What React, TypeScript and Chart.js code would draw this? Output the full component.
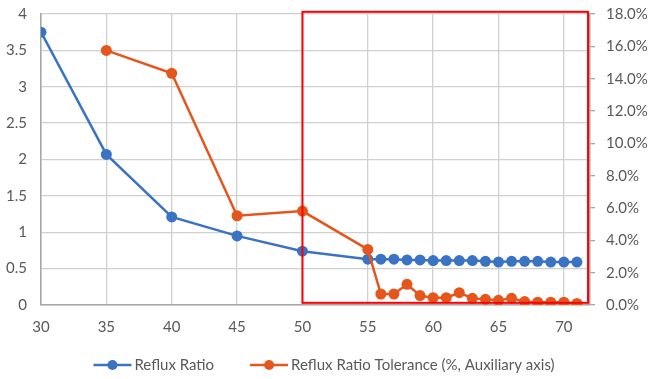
import { useEffect, useRef } from "react";
import { Chart, registerables } from "chart.js";

Chart.register(...registerables);

// ---- data ----
const X_VALUES = [30, 35, 40, 45, 50, 55, 56, 57, 58, 59, 60, 61, 62, 63, 64, 65, 66, 67, 68, 69, 70, 71];
const REFLUX_RATIO = [3.75, 2.07, 1.21, 0.95, 0.74, 0.63, 0.63, 0.63, 0.62, 0.62, 0.61, 0.61, 0.61, 0.61, 0.6, 0.59, 0.6, 0.6, 0.6, 0.59, 0.59, 0.59];
const TOLERANCE_PCT = [null, 15.75, 14.33, 5.52, 5.81, 3.44, 0.68, 0.68, 1.28, 0.58, 0.45, 0.45, 0.76, 0.41, 0.35, 0.29, 0.41, 0.21, 0.17, 0.17, 0.17, 0.1];
const SERIES_LABELS = ["Reflux Ratio", "Reflux Ratio Tolerance (%, Auxiliary axis)"];
// highlighted region (in data units of x / left y axis)
const HIGHLIGHT_X = [50, 71.85];
const HIGHLIGHT_Y = [0.03, 4.03];

const BLUE = "#3B73C4";
const ORANGE = "#E5561D";
const GRID = "#D0D0D0";
const AXIS = "#A6A6A6";
const TEXT = "#595959";
const FONT = "Lato, 'Open Sans', sans-serif";
const FONT_SIZE = 15;

const boxPlugin = {
  id: "highlightBox",
  afterDatasetsDraw(chart: any) {
    const { ctx, scales } = chart;
    const x0 = scales.x.getPixelForValue(HIGHLIGHT_X[0]);
    const x1 = scales.x.getPixelForValue(HIGHLIGHT_X[1]);
    const y0 = scales.y.getPixelForValue(HIGHLIGHT_Y[1]);
    const y1 = scales.y.getPixelForValue(HIGHLIGHT_Y[0]);
    ctx.save();
    ctx.strokeStyle = "#FF0000";
    ctx.lineWidth = 2;
    ctx.strokeRect(x0, y0, x1 - x0, y1 - y0);
    ctx.restore();
  },
};

const legendPlugin = {
  id: "bottomLegend",
  afterDraw(chart: any) {
    const ctx = chart.ctx;
    ctx.save();
    ctx.font = `${FONT_SIZE}px ${FONT}`;
    const items = chart.data.datasets.map((ds: any) => ({ label: ds.label, color: ds.borderColor }));
    const markerW = 38;
    const gapText = 3;
    const gapItem = 36;
    const widths = items.map((it: any) => markerW + gapText + ctx.measureText(it.label).width);
    const total = widths.reduce((a: number, b: number) => a + b, 0) + gapItem * (items.length - 1);
    let x = chart.width / 2 - total / 2;
    const y = chart.chartArea.bottom + 60;
    items.forEach((it: any, i: number) => {
      ctx.strokeStyle = it.color;
      ctx.lineWidth = 2.5;
      ctx.beginPath();
      ctx.moveTo(x, y);
      ctx.lineTo(x + markerW, y);
      ctx.stroke();
      ctx.fillStyle = it.color;
      ctx.beginPath();
      ctx.arc(x + markerW / 2, y, 5, 0, Math.PI * 2);
      ctx.fill();
      ctx.fillStyle = TEXT;
      ctx.textBaseline = "middle";
      ctx.textAlign = "left";
      ctx.fillText(it.label, x + markerW + gapText, y);
      x += widths[i] + gapItem;
    });
    ctx.restore();
  },
};

export default function App() {
  const ref = useRef<HTMLCanvasElement | null>(null);
  useEffect(() => {
    if (!ref.current) return;
    const font = { family: FONT, size: FONT_SIZE };
    const chart = new Chart(ref.current, {
      type: "line",
      data: {
        datasets: [
          {
            label: SERIES_LABELS[0],
            data: X_VALUES.map((x, i) => ({ x, y: REFLUX_RATIO[i] })),
            borderColor: BLUE,
            backgroundColor: BLUE,
            borderWidth: 2.5,
            pointRadius: 5.5,
            pointBorderWidth: 0,
            yAxisID: "y",
            order: 1,
          },
          {
            label: SERIES_LABELS[1],
            data: X_VALUES.map((x, i) => ({ x, y: TOLERANCE_PCT[i] })) as any,
            borderColor: ORANGE,
            backgroundColor: ORANGE,
            borderWidth: 2.5,
            pointRadius: 5.5,
            pointBorderWidth: 0,
            yAxisID: "y1",
            order: 0,
          },
        ],
      },
      options: {
        animation: false,
        responsive: false,
        maintainAspectRatio: false,
        layout: { padding: { top: 14, left: 0, right: 0, bottom: 0 } },
        plugins: { legend: { display: false }, tooltip: { enabled: false } },
        scales: {
          x: {
            type: "linear",
            min: 30,
            max: 72,
            ticks: { stepSize: 5, includeBounds: false, padding: 13, color: TEXT, font, maxRotation: 0 },
            grid: { color: GRID, lineWidth: 1.3, drawTicks: false },
            border: { color: AXIS, width: 1.5 },
            afterFit: (s: any) => {
              s.height = 74;
            },
          },
          y: {
            position: "left",
            min: 0,
            max: 4,
            ticks: { stepSize: 0.5, padding: 14, color: TEXT, font, callback: (v: any) => String(Number(v)) },
            grid: { color: GRID, lineWidth: 1.3, drawTicks: false },
            border: { color: AXIS, width: 1.5 },
            afterFit: (s: any) => {
              s.width = 41;
              s.paddingTop = 0;
              s.paddingBottom = 0;
            },
          },
          y1: {
            position: "right",
            min: 0,
            max: 18,
            ticks: {
              stepSize: 2,
              padding: 11,
              color: TEXT,
              font,
              callback: (v: any) => Number(v).toFixed(1) + "%",
            },
            grid: { drawOnChartArea: false, drawTicks: true, tickLength: 5, color: AXIS, lineWidth: 1.3 },
            border: { color: AXIS, width: 1.5 },
            afterFit: (s: any) => {
              s.width = 58;
              s.paddingTop = 0;
              s.paddingBottom = 0;
            },
          },
        },
      } as any,
      plugins: [boxPlugin, legendPlugin],
    });
    return () => chart.destroy();
  }, []);
  return (
    <div style={{ position: "fixed", left: 0, top: 0, width: 648, height: 379, background: "#fff" }}>
      <canvas ref={ref} width={648} height={379} style={{ display: "block" }} />
    </div>
  );
}
